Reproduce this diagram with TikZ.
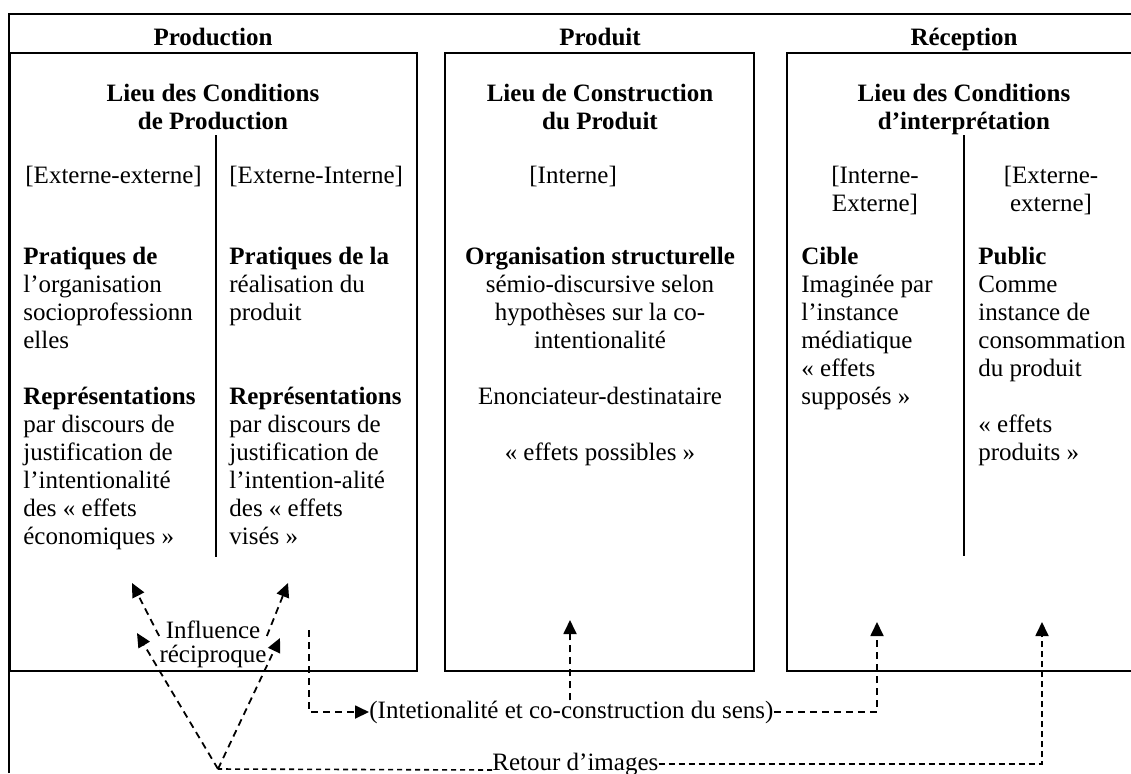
\documentclass[tikz,border=0pt]{standalone}
\usepackage{fontspec}
\setmainfont{Liberation Serif}
\usetikzlibrary{arrows.meta}

\tikzset{
  cell/.style={line width=0.7pt},
  txt/.style={inner sep=0pt, font=\fontsize{12.5}{14}\selectfont, align=left, anchor=north west},
  ctxt/.style={txt, align=center, anchor=north},
  head/.style={ctxt, font=\fontsize{12.5}{14}\selectfont\bfseries},
  dsh/.style={line width=0.9pt, dash pattern=on 3.5pt off 2.5pt, -{Triangle[length=7pt,width=6.5pt]}},
  fine/.style={line width=0.8pt, dash pattern=on 2.5pt off 2pt},
}

\begin{document}
\begin{tikzpicture}[x=0.5pt, y=-0.5pt]
        \useasboundingbox (0,0) rectangle (1131,773);
        % Draw frame and the three boxes
        \draw[cell] (9,773) -- (9,14) -- (1131,14);
        \draw[cell] (9,53) -- (417,53) -- (417,671) -- (9,671);
        \draw[cell] (10.5,53) -- (10.5,671);
        \draw[cell] (445,53) rectangle (754,671);
        \draw[cell] (1131,53) -- (787,53) -- (787,671) -- (1131,671);
        % Column dividers
        \draw[cell] (216,135) -- (216,557);
        \draw[cell] (964,135) -- (964,556);
        % Headings
        \foreach \x/\n/\t in {213/hprod/Production, 600/hprodt/Produit, 964/hrec/Réception}
            \node[head] (\n) at (\x,25.4) {\strut\t};
        \node[head] (lprod) at (213,81.4) {\strut Lieu des Conditions\\de Production};
        \node[head] (lprodt) at (600,81.4) {\strut Lieu de Construction\\du Produit};
        \node[head] (lrec) at (964,81.4) {\strut Lieu des Conditions\\d’interprétation};
        % Bracket labels
        \node[txt] (bprodA) at (25,163.4) {\strut[Externe-externe]};
        \node[txt] (bprodB) at (229,163.4) {\strut[Externe-Interne]};
        \node[txt] (bprodt) at (529,163.4) {\strut[Interne]};
        \node[ctxt] (brecA) at (875,163.4) {\strut[Interne-\\Externe]};
        \node[ctxt] (brecB) at (1051,163.4) {\strut[Externe-\\externe]};
        % Column texts
        \node[txt] (cprodA) at (23,244.4) {\strut\textbf{Pratiques de}\\l’organisation\\socioprofessionn\\elles\\[14pt]\textbf{Représentations}\\par discours de\\justification de\\l’intentionalité\\des « effets\\économiques »};
        \node[txt] (cprodB) at (229,244.4) {\strut\textbf{Pratiques de la}\\réalisation du\\produit\\[28pt]\textbf{Représentations}\\par discours de\\justification de\\l’intention-alité\\des « effets\\visés »};
        \node[ctxt] (cprodt) at (600,244.4) {\strut\textbf{Organisation structurelle}\\sémio-discursive selon\\hypothèses sur la co-\\intentionalité\\[14pt]Enonciateur-destinataire\\[14pt]« effets possibles »};
        \node[txt] (crecA) at (801,244.4) {\strut\textbf{Cible}\\Imaginée par\\l’instance\\médiatique\\« effets\\supposés »};
        \node[txt] (crecB) at (978,244.4) {\strut\textbf{Public}\\Comme\\instance de\\consommation\\du produit\\[14pt]« effets\\produits »};
        % Bottom labels
        \node[inner sep=0pt, font=\fontsize{12.5}{12}\selectfont, align=center] (infl) at (213,644) {Influence\\réciproque};
        \node[txt, anchor=west] (intn) at (369,712) {(Intetionalité et co-construction du sens)};
        \node[txt, anchor=base west] (ret) at (492,770) {Retour d’images};
        % Arrow ends
        \coordinate (vx) at (218,769);
        \coordinate (tipA) at (132,583);
        \coordinate (tipB) at (137,633);
        \coordinate (tipC) at (288,583);
        \coordinate (tipD) at (280,638);
        \coordinate (srcI) at (309,630);
        \coordinate (tipP) at (570,620);
        \coordinate (tipQ) at (877,622);
        \coordinate (tipR) at (1042,622);
        % Dashed arrows
        \draw[dsh] ([yshift=4pt]infl.west) -- (tipA);
        \draw[dsh] ([yshift=4pt]infl.east) -- (tipC);
        \draw[dsh] (vx) -- (tipB);
        \draw[dsh] (vx) -- (tipD);
        \draw[fine] (ret.base west) -- (vx);
        \draw[dsh] (srcI) |- (intn.west);
        \draw[dsh] (tipP |- intn.north) -- (tipP);
        \draw[dsh] (intn.east) -| (tipQ);
        \draw[dsh, dash pattern=on 3pt off 2pt] (ret.east) -| (tipR);
\end{tikzpicture}
\end{document}
